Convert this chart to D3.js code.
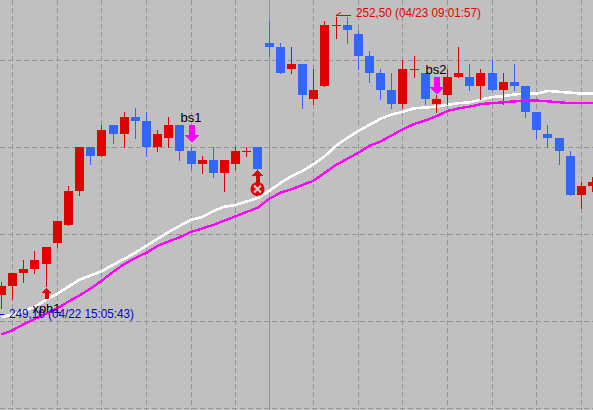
<!DOCTYPE html>
<html><head><meta charset="utf-8">
<script src="https://cdn.jsdelivr.net/npm/d3@7/dist/d3.min.js"></script>
<style>html,body{margin:0;padding:0;background:#c0c0c0;overflow:hidden}svg{display:block}text{font-family:"Liberation Sans",Arial,sans-serif}</style>
</head><body><svg id="c" width="593" height="410"></svg>
<script>
const open=[249.30,249.40,249.55,249.60,249.65,249.90,250.10,250.50,251.00,250.90,251.25,251.15,251.35,251.30,251.00,251.10,251.25,250.95,250.80,250.85,250.70,250.80,250.95,251.00,252.20,252.15,251.90,251.95,251.55,251.70,252.40,252.40,252.30,252.05,251.85,251.65,251.50,251.90,251.85,251.50,251.60,251.80,251.80,251.70,251.85,251.65,251.75,251.70,251.40,251.15,251.10,250.90,250.45,250.55];
const high=[249.45,249.55,249.70,249.80,249.85,250.15,250.55,251.00,251.00,251.25,251.25,251.40,251.45,251.40,251.20,251.35,251.25,251.00,250.90,251.00,250.85,251.00,251.00,251.00,252.45,252.20,252.15,251.95,251.90,252.45,252.50,252.50,252.35,252.10,251.90,251.85,252.00,252.05,251.85,251.60,251.90,252.15,251.95,251.90,252.00,251.85,251.95,251.70,251.40,251.25,251.10,250.95,250.60,250.65];
const low=[249.15,249.25,249.45,249.55,249.40,249.85,250.10,250.45,250.80,250.90,251.05,251.00,251.10,250.90,250.95,251.00,250.85,250.75,250.70,250.65,250.50,250.75,250.90,250.75,252.05,251.85,251.85,251.45,251.50,251.70,252.25,252.20,251.90,251.75,251.55,251.45,251.45,251.80,251.50,251.40,251.50,251.80,251.65,251.55,251.65,251.50,251.65,251.35,251.10,251.00,250.80,250.45,250.30,250.50];
const close=[249.40,249.55,249.60,249.70,249.85,250.15,250.50,251.00,250.90,251.20,251.15,251.35,251.30,251.00,251.15,251.25,250.95,250.80,250.85,250.70,250.85,250.95,250.95,250.75,252.15,251.85,251.95,251.60,251.65,252.40,252.40,252.35,252.05,251.85,251.65,251.50,251.90,251.90,251.55,251.55,251.80,251.85,251.70,251.85,251.65,251.75,251.70,251.40,251.20,251.10,250.95,250.45,250.55,250.60];
const maWhite=[249.05,249.08,249.12,249.17,249.25,249.32,249.40,249.48,249.53,249.58,249.65,249.72,249.79,249.87,249.95,250.03,250.10,250.17,250.20,250.27,250.32,250.34,250.38,250.42,250.50,250.59,250.67,250.73,250.81,250.90,251.02,251.11,251.19,251.26,251.33,251.38,251.41,251.45,251.46,251.47,251.49,251.51,251.52,251.55,251.58,251.59,251.61,251.62,251.62,251.65,251.64,251.63,251.62,251.62];
const maMagenta=[248.85,248.90,248.97,249.03,249.09,249.15,249.23,249.30,249.38,249.47,249.57,249.66,249.73,249.79,249.87,249.92,249.97,250.03,250.07,250.11,250.16,250.21,250.26,250.31,250.41,250.48,250.52,250.57,250.62,250.71,250.80,250.87,250.94,251.02,251.07,251.14,251.21,251.27,251.31,251.36,251.42,251.45,251.47,251.50,251.51,251.52,251.53,251.54,251.54,251.53,251.52,251.51,251.51,251.51];
const gridPrices=[252,251,250,249,248];
const gridIndices=[1,5,9,13,17,21,28,32,36,40,44,48,52];
const sessionIndices=[24];
const sellLabels=["bs1","bs2"], sellIndex=[17,39];
const buyLabel="xph1", buyIndex=4;
const exitIndex=23;
const highLabel="252,50 (04/23 09:01:57)", highPrice=252.50, highIndex=30;
const lowLabel="249,10 (04/22 15:05:43)", lowPrice=249.10;

const RED="#e00000",BLUE="#3366ff",GRID="#969696";
const svg=d3.select("#c");
const n=open.length;
const x=d3.scaleLinear().domain([0,n-1]).range([1,592]);
const y=d3.scaleLinear().domain([252,248]).range([60.5,408.5]);
const px=i=>Math.round(x(i));
const py=p=>Math.floor(y(p));
svg.append("rect").attr("width",593).attr("height",410).attr("fill","#c0c0c0");

const grid=svg.append("g").attr("stroke",GRID).attr("shape-rendering","crispEdges");
grid.selectAll(".h").data(gridPrices).join("line").attr("x1",0).attr("x2",593)
  .attr("y1",d=>py(d)+.5).attr("y2",d=>py(d)+.5).attr("stroke-dasharray","5,3");
grid.selectAll(".v").data(gridIndices).join("line").attr("y1",0).attr("y2",410)
  .attr("x1",d=>px(d)+.5).attr("x2",d=>px(d)+.5).attr("stroke-dasharray","5,3");
grid.selectAll(".s").data(sessionIndices).join("line").attr("y1",0).attr("y2",410)
  .attr("x1",d=>px(d)+.5).attr("x2",d=>px(d)+.5);

const line=vals=>d3.line().x((d,i)=>x(i)+.5).y(d=>y(d))(vals);
svg.append("path").attr("d",line(maWhite)).attr("fill","none").attr("stroke","#fff").attr("stroke-width",2.6).attr("shape-rendering","crispEdges");

const idx=d3.range(n);
const col=i=>close[i]>=open[i]?RED:BLUE;
const c=svg.append("g").attr("shape-rendering","crispEdges");
c.selectAll(".w").data(idx).join("rect").attr("x",i=>px(i)).attr("width",1)
  .attr("y",i=>py(high[i])).attr("height",i=>py(low[i])-py(high[i])+1).attr("fill",col);
c.selectAll(".b").data(idx).join("rect").attr("x",i=>px(i)-4).attr("width",9)
  .attr("y",i=>py(Math.max(open[i],close[i])))
  .attr("height",i=>Math.max(1,py(Math.min(open[i],close[i]))-py(Math.max(open[i],close[i]))))
  .attr("fill",col);

svg.append("path").attr("d",line(maMagenta)).attr("fill","none").attr("stroke","#ff00ff").attr("stroke-width",2.4).attr("shape-rendering","crispEdges");

// sell markers
sellIndex.forEach((i,k)=>{
  const cx=px(i)+.5, top=k===0?py(high[i])-22:py(high[i])-18;
  svg.append("text").text(sellLabels[k]).attr("x",cx-.5).attr("y",top-3).attr("text-anchor","middle")
    .attr("font-size",13).attr("fill","#000");
  svg.append("path").attr("fill","#ff00ff").attr("shape-rendering","crispEdges")
    .attr("d",`M${cx-2.5},${top}h6v10h4.5l-7.5,8l-7.5,-8h4.5z`);
});

// buy marker
const bx=px(buyIndex)+.5, bt=py(low[buyIndex])+2;
svg.append("text").text(buyLabel).attr("x",bx).attr("y",bt+25).attr("text-anchor","middle").attr("font-size",13).attr("fill","#000");
svg.append("path").attr("fill",RED).attr("shape-rendering","crispEdges")
  .attr("d",`M${bx},${bt}l5,5h-3v6h-4v-6h-3z`);

// exit marker
const ex=px(exitIndex)+.5, et=py(close[exitIndex])+1;
svg.append("path").attr("fill",RED).attr("shape-rendering","crispEdges")
  .attr("d",`M${ex},${et}l5.5,6h-3.5v8h-4v-8h-3.5z`);
svg.append("circle").attr("cx",ex).attr("cy",et+19).attr("r",7).attr("fill",RED);
svg.append("path").attr("d",`M${ex-3.5},${et+15.5}l7,7M${ex+3.5},${et+15.5}l-7,7`).attr("stroke","#ccc").attr("stroke-width",2.2).attr("fill","none");

// extreme labels
const hy=py(highPrice)-2, hx=px(highIndex);
svg.append("path").attr("d",`M${hx},${hy+.5}h15M${hx},${hy+.5}l5,-3`).attr("stroke",RED).attr("fill","none");
svg.append("text").text(highLabel).attr("x",356).attr("y",17).attr("textLength",125).attr("lengthAdjust","spacingAndGlyphs").attr("font-size",13.5).attr("fill",RED);
svg.append("rect").attr("x",0).attr("y",py(lowPrice)+2).attr("width",4).attr("height",1).attr("fill","#0000d0");
svg.append("text").text(lowLabel).attr("x",9).attr("y",318).attr("textLength",125).attr("lengthAdjust","spacingAndGlyphs").attr("font-size",13.5).attr("fill","#0000d0");
</script></body></html>
